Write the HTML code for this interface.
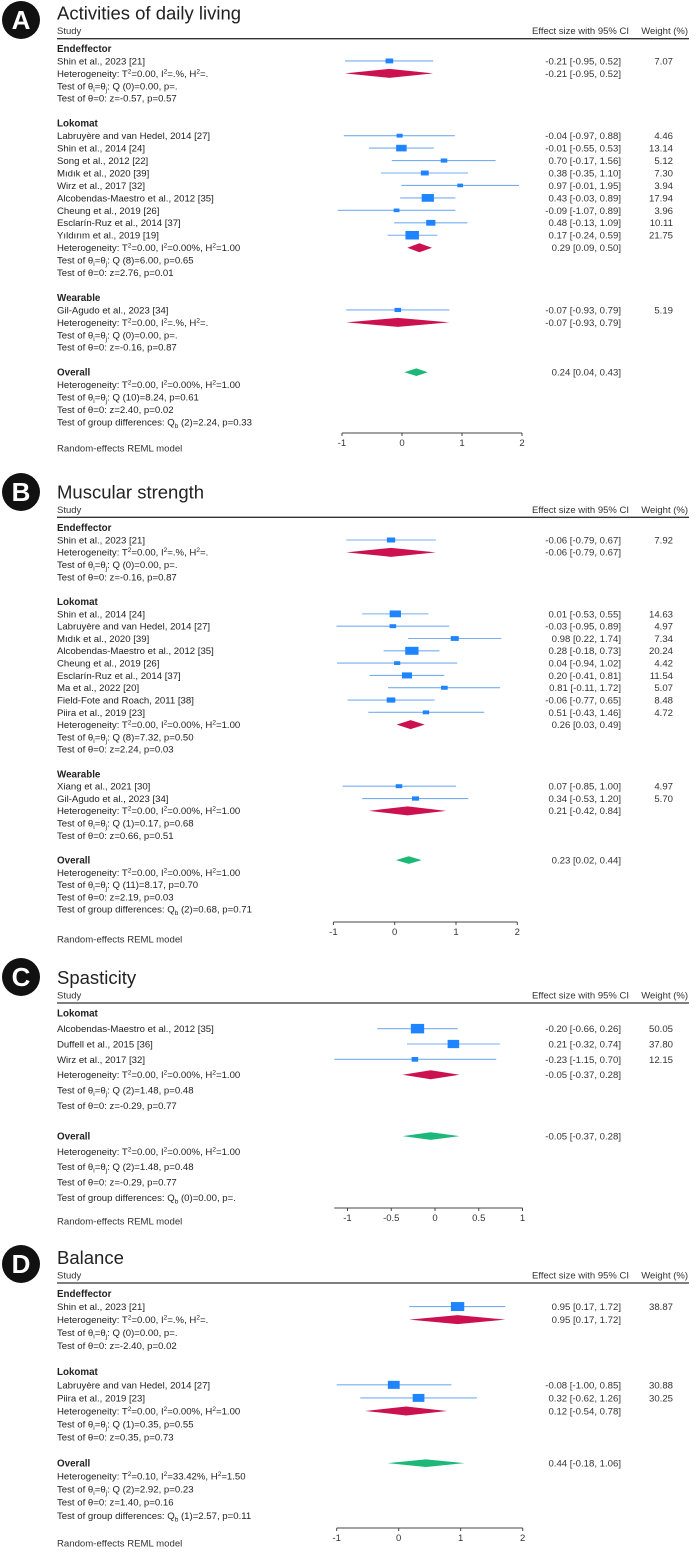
<!DOCTYPE html>
<html><head><meta charset="utf-8">
<style>
html,body{margin:0;padding:0;background:#fff;}
svg{display:block;font-family:"Liberation Sans",Arial,sans-serif;}
</style></head>
<body>
<svg id="fp" width="696" height="1558" viewBox="0 0 696 1558" xmlns="http://www.w3.org/2000/svg"></svg>
<script>
// ---------- Panel A: Activities of daily living ----------
const A_groups = ["Endeffector","Lokomat","Wearable"];
const A_groupSizes = [1,9,1];
const A_studies = ["Shin et al., 2023 [21]","Labruyère and van Hedel, 2014 [27]","Shin et al., 2014 [24]","Song et al., 2012 [22]","Mıdık et al., 2020 [39]","Wirz et al., 2017 [32]","Alcobendas-Maestro et al., 2012 [35]","Cheung et al., 2019 [26]","Esclarín-Ruz et al., 2014 [37]","Yıldırım et al., 2019 [19]","Gil-Agudo et al., 2023 [34]"];
const A_est = [-0.21,-0.04,-0.01,0.70,0.38,0.97,0.43,-0.09,0.48,0.17,-0.07];
const A_lo  = [-0.95,-0.97,-0.55,-0.17,-0.35,-0.01,-0.03,-1.07,-0.13,-0.24,-0.93];
const A_hi  = [0.52,0.88,0.53,1.56,1.10,1.95,0.89,0.89,1.09,0.59,0.79];
const A_w   = [7.07,4.46,13.14,5.12,7.30,3.94,17.94,3.96,10.11,21.75,5.19];
const A_grpEst = [-0.21,0.29,-0.07];
const A_grpLo  = [-0.95,0.09,-0.93];
const A_grpHi  = [0.52,0.50,0.79];
const A_grpText = [
 ["Heterogeneity: T^2=0.00, I^2=.%, H^2=.","Test of θ_i=θ_j: Q (0)=0.00, p=.","Test of θ=0: z=-0.57, p=0.57"],
 ["Heterogeneity: T^2=0.00, I^2=0.00%, H^2=1.00","Test of θ_i=θ_j: Q (8)=6.00, p=0.65","Test of θ=0: z=2.76, p=0.01"],
 ["Heterogeneity: T^2=0.00, I^2=.%, H^2=.","Test of θ_i=θ_j: Q (0)=0.00, p=.","Test of θ=0: z=-0.16, p=0.87"]];
const A_overall = [0.24,0.04,0.43];
const A_overallText = ["Heterogeneity: T^2=0.00, I^2=0.00%, H^2=1.00","Test of θ_i=θ_j: Q (10)=8.24, p=0.61","Test of θ=0: z=2.40, p=0.02","Test of group differences: Q_b (2)=2.24, p=0.33"];
const A_ticks = [-1,0,1,2];

// ---------- Panel B: Muscular strength ----------
const B_groups = ["Endeffector","Lokomat","Wearable"];
const B_groupSizes = [1,9,2];
const B_studies = ["Shin et al., 2023 [21]","Shin et al., 2014 [24]","Labruyère and van Hedel, 2014 [27]","Mıdık et al., 2020 [39]","Alcobendas-Maestro et al., 2012 [35]","Cheung et al., 2019 [26]","Esclarín-Ruz et al., 2014 [37]","Ma et al., 2022 [20]","Field-Fote and Roach, 2011 [38]","Piira et al., 2019 [23]","Xiang et al., 2021 [30]","Gil-Agudo et al., 2023 [34]"];
const B_est = [-0.06,0.01,-0.03,0.98,0.28,0.04,0.20,0.81,-0.06,0.51,0.07,0.34];
const B_lo  = [-0.79,-0.53,-0.95,0.22,-0.18,-0.94,-0.41,-0.11,-0.77,-0.43,-0.85,-0.53];
const B_hi  = [0.67,0.55,0.89,1.74,0.73,1.02,0.81,1.72,0.65,1.46,1.00,1.20];
const B_w   = [7.92,14.63,4.97,7.34,20.24,4.42,11.54,5.07,8.48,4.72,4.97,5.70];
const B_grpEst = [-0.06,0.26,0.21];
const B_grpLo  = [-0.79,0.03,-0.42];
const B_grpHi  = [0.67,0.49,0.84];
const B_grpText = [
 ["Heterogeneity: T^2=0.00, I^2=.%, H^2=.","Test of θ_i=θ_j: Q (0)=0.00, p=.","Test of θ=0: z=-0.16, p=0.87"],
 ["Heterogeneity: T^2=0.00, I^2=0.00%, H^2=1.00","Test of θ_i=θ_j: Q (8)=7.32, p=0.50","Test of θ=0: z=2.24, p=0.03"],
 ["Heterogeneity: T^2=0.00, I^2=0.00%, H^2=1.00","Test of θ_i=θ_j: Q (1)=0.17, p=0.68","Test of θ=0: z=0.66, p=0.51"]];
const B_overall = [0.23,0.02,0.44];
const B_overallText = ["Heterogeneity: T^2=0.00, I^2=0.00%, H^2=1.00","Test of θ_i=θ_j: Q (11)=8.17, p=0.70","Test of θ=0: z=2.19, p=0.03","Test of group differences: Q_b (2)=0.68, p=0.71"];
const B_ticks = [-1,0,1,2];

// ---------- Panel C: Spasticity ----------
const C_groups = ["Lokomat"];
const C_groupSizes = [3];
const C_studies = ["Alcobendas-Maestro et al., 2012 [35]","Duffell et al., 2015 [36]","Wirz et al., 2017 [32]"];
const C_est = [-0.20,0.21,-0.23];
const C_lo  = [-0.66,-0.32,-1.15];
const C_hi  = [0.26,0.74,0.70];
const C_w   = [50.05,37.80,12.15];
const C_grpEst = [-0.05];
const C_grpLo  = [-0.37];
const C_grpHi  = [0.28];
const C_grpText = [["Heterogeneity: T^2=0.00, I^2=0.00%, H^2=1.00","Test of θ_i=θ_j: Q (2)=1.48, p=0.48","Test of θ=0: z=-0.29, p=0.77"]];
const C_overall = [-0.05,-0.37,0.28];
const C_overallText = ["Heterogeneity: T^2=0.00, I^2=0.00%, H^2=1.00","Test of θ_i=θ_j: Q (2)=1.48, p=0.48","Test of θ=0: z=-0.29, p=0.77","Test of group differences: Q_b (0)=0.00, p=."];
const C_ticks = [-1,-0.5,0,0.5,1];

// ---------- Panel D: Balance ----------
const D_groups = ["Endeffector","Lokomat"];
const D_groupSizes = [1,2];
const D_studies = ["Shin et al., 2023 [21]","Labruyère and van Hedel, 2014 [27]","Piira et al., 2019 [23]"];
const D_est = [0.95,-0.08,0.32];
const D_lo  = [0.17,-1.00,-0.62];
const D_hi  = [1.72,0.85,1.26];
const D_w   = [38.87,30.88,30.25];
const D_grpEst = [0.95,0.12];
const D_grpLo  = [0.17,-0.54];
const D_grpHi  = [1.72,0.78];
const D_grpText = [
 ["Heterogeneity: T^2=0.00, I^2=.%, H^2=.","Test of θ_i=θ_j: Q (0)=0.00, p=.","Test of θ=0: z=-2.40, p=0.02"],
 ["Heterogeneity: T^2=0.00, I^2=0.00%, H^2=1.00","Test of θ_i=θ_j: Q (1)=0.35, p=0.55","Test of θ=0: z=0.35, p=0.73"]];
const D_overall = [0.44,-0.18,1.06];
const D_overallText = ["Heterogeneity: T^2=0.10, I^2=33.42%, H^2=1.50","Test of θ_i=θ_j: Q (2)=2.92, p=0.23","Test of θ=0: z=1.40, p=0.16","Test of group differences: Q_b (1)=2.57, p=0.11"];
const D_ticks = [-1,0,1,2];

const NS = "http://www.w3.org/2000/svg";
const svg = document.getElementById("fp");
function mk(tag, attrs, parent){
  const e = document.createElementNS(NS, tag);
  for (const k in attrs) e.setAttribute(k, attrs[k]);
  (parent||svg).appendChild(e);
  return e;
}
function rich(parent, str){
  // ^x => superscript, _x => subscript; following text restores baseline
  let buf = "";
  let pendingDy = 0;
  function flush(){
    if (!buf) return;
    const t = document.createElementNS(NS,"tspan");
    if (pendingDy) t.setAttribute("dy", String(pendingDy));
    t.textContent = buf;
    parent.appendChild(t);
    buf = ""; pendingDy = 0;
  }
  for (let i=0;i<str.length;i++){
    const c = str[i];
    if ((c==="^"||c==="_") && i+1<str.length){
      flush();
      const off = c==="^" ? -3.5 : 2.5;
      const t = document.createElementNS(NS,"tspan");
      t.setAttribute("font-size","6.5");
      t.setAttribute("dy", String(off + pendingDy));
      t.textContent = str[i+1];
      parent.appendChild(t);
      pendingDy = -off;
      i++;
    } else buf += c;
  }
  flush();
}
function f2(v){ return v.toFixed(2); }

function panel(cfg, d){
  const g = mk("g",{});
  
  
  const X = v => cfg.x0 + v*cfg.ppu;
  const bc = mk("circle",{cx:cfg.bx,cy:cfg.by,r:19,fill:"#111"},g);
  
  
  const bt = mk("text",{x:cfg.bx,y:cfg.by+9,"text-anchor":"middle","font-size":26,"font-weight":"bold",fill:"#fff"},g);
  bt.textContent = cfg.letter;
  
  
  const tt = mk("text",{x:57,y:cfg.line-19,"font-size":18.5,fill:"#222"},g);
  tt.textContent = cfg.title;
  
  
  const st = mk("text",{x:57,y:cfg.line-4.5,"font-size":9.5,fill:"#333"},g);
  st.textContent = "Study";
  
  
  const eh = mk("text",{x:629,y:cfg.line-4.5,"font-size":9.5,fill:"#333","text-anchor":"end"},g);
  eh.textContent = "Effect size with 95% CI";
  
  
  const wh = mk("text",{x:688,y:cfg.line-4.5,"font-size":9.5,fill:"#333","text-anchor":"end"},g);
  wh.textContent = "Weight (%)";
  
  
  const hl = mk("line",{x1:57,x2:689,y1:cfg.line,y2:cfg.line,stroke:"#333","stroke-width":1.3},g);
  
  

  const maxW = Math.max(...d.w);
  let row = 0, si = 0;
  const Y = r => cfg.start + r*cfg.step;
  function label(r, str, bold, name){
    const t = mk("text",{x:57,y:Y(r)+3.4,"font-size":bold?9.8:9.6,fill:"#222","font-weight":bold?"bold":"normal"},g);
    rich(t,str);
    
    
  }
  function valText(r, str, name, xr){
    const t = mk("text",{x:xr,y:Y(r)+3.4,"font-size":9.6,fill:"#333","text-anchor":"end"},g);
    t.textContent = str;
    
    
  }
  function diamond(r, est, lo, hi, color, name, h){
    const y = Y(r);
    const p = mk("polygon",{points:`${X(lo)},${y} ${X(est)},${y-h/2} ${X(hi)},${y} ${X(est)},${y+h/2}`,fill:color},g);
    
    
  }
  for (let gi=0; gi<d.groups.length; gi++){
    label(row, d.groups[gi], true, 'group-header');
    row++;
    for (let k=0;k<d.sizes[gi];k++){
      label(row, d.studies[si], false, 'study-label');
      const y = Y(row);
      const ci = mk("line",{x1:X(d.lo[si]),x2:X(d.hi[si]),y1:y,y2:y,stroke:"#74aef0","stroke-width":1.1},g);
      
      
      const s = Math.sqrt(d.w[si]/maxW);
      const bw = cfg.boxW*s, bh = cfg.boxH*s;
      const b = mk("rect",{x:X(d.est[si])-bw/2,y:y-bh/2,width:bw,height:bh,fill:"#1f84ff"},g);
      
      
      valText(row, `${f2(d.est[si])} [${f2(d.lo[si])}, ${f2(d.hi[si])}]`, 'effect-size-value', 621);
      valText(row, f2(d.w[si]), 'weight-value', 673);
      row++; si++;
    }
    const txt = d.grpText[gi];
    label(row, txt[0], false, 'heterogeneity-stat');
    diamond(row, d.gEst[gi], d.gLo[gi], d.gHi[gi], "#cc1150", 'subgroup-diamond', cfg.dh);
    valText(row, `${f2(d.gEst[gi])} [${f2(d.gLo[gi])}, ${f2(d.gHi[gi])}]`, 'subgroup-effect-value', 621);
    row++;
    label(row, txt[1], false, 'heterogeneity-test'); row++;
    label(row, txt[2], false, 'effect-test'); row++;
    row++;
  }
  label(row, "Overall", true, 'overall-header');
  diamond(row, d.ov[0], d.ov[1], d.ov[2], "#1cb877", 'overall-diamond', cfg.dh*0.85);
  valText(row, `${f2(d.ov[0])} [${f2(d.ov[1])}, ${f2(d.ov[2])}]`, 'overall-effect-value', 621);
  row++;
  for (const t of d.ovText){ label(row, t, false, 'overall-stat'); row++; }
  const rm = mk("text",{x:57,y:cfg.rand+3.4,"font-size":9.6,fill:"#333"},g);
  rm.textContent = "Random-effects REML model";
  
  
  const ax = mk("line",{x1:X(cfg.axMin),x2:X(cfg.axMax),y1:cfg.axY,y2:cfg.axY,stroke:"#444","stroke-width":1},g);
  
  
  for (const t of d.ticks){
    const tk = mk("line",{x1:X(t),x2:X(t),y1:cfg.axY,y2:cfg.axY+3,stroke:"#444","stroke-width":1},g);
    
    
    const tl = mk("text",{x:X(t),y:cfg.axY+13,"font-size":9.5,fill:"#333","text-anchor":"middle"},g);
    tl.textContent = String(t);
    
    
  }
}

panel({key:"a",letter:"A",title:"Activities of daily living",bx:21,by:20,line:38.7,start:48.5,step:12.45,x0:402,ppu:60,axMin:-1,axMax:2,axY:433,rand:448,boxW:13.5,boxH:8.5,dh:9},
 {groups:A_groups,sizes:A_groupSizes,studies:A_studies,est:A_est,lo:A_lo,hi:A_hi,w:A_w,gEst:A_grpEst,gLo:A_grpLo,gHi:A_grpHi,grpText:A_grpText,ov:A_overall,ovText:A_overallText,ticks:A_ticks});
panel({key:"b",letter:"B",title:"Muscular strength",bx:21,by:492,line:517.3,start:527.7,step:12.31,x0:394.7,ppu:61.3,axMin:-1,axMax:2,axY:922,rand:939,boxW:13.3,boxH:8,dh:9},
 {groups:B_groups,sizes:B_groupSizes,studies:B_studies,est:B_est,lo:B_lo,hi:B_hi,w:B_w,gEst:B_grpEst,gLo:B_grpLo,gHi:B_grpHi,grpText:B_grpText,ov:B_overall,ovText:B_overallText,ticks:B_ticks});
panel({key:"c",letter:"C",title:"Spasticity",bx:21,by:977,line:1003,start:1013.3,step:15.35,x0:435,ppu:87.5,axMin:-1.15,axMax:1,axY:1208,rand:1221,boxW:13.3,boxH:9.5,dh:9},
 {groups:C_groups,sizes:C_groupSizes,studies:C_studies,est:C_est,lo:C_lo,hi:C_hi,w:C_w,gEst:C_grpEst,gLo:C_grpLo,gHi:C_grpHi,grpText:C_grpText,ov:C_overall,ovText:C_overallText,ticks:C_ticks});
panel({key:"d",letter:"D",title:"Balance",bx:21,by:1264,line:1283,start:1293.5,step:13.05,x0:398.7,ppu:62,axMin:-1,axMax:2,axY:1528,rand:1543,boxW:13.3,boxH:9,dh:9},
 {groups:D_groups,sizes:D_groupSizes,studies:D_studies,est:D_est,lo:D_lo,hi:D_hi,w:D_w,gEst:D_grpEst,gLo:D_grpLo,gHi:D_grpHi,grpText:D_grpText,ov:D_overall,ovText:D_overallText,ticks:D_ticks});
</script>
</body></html>
